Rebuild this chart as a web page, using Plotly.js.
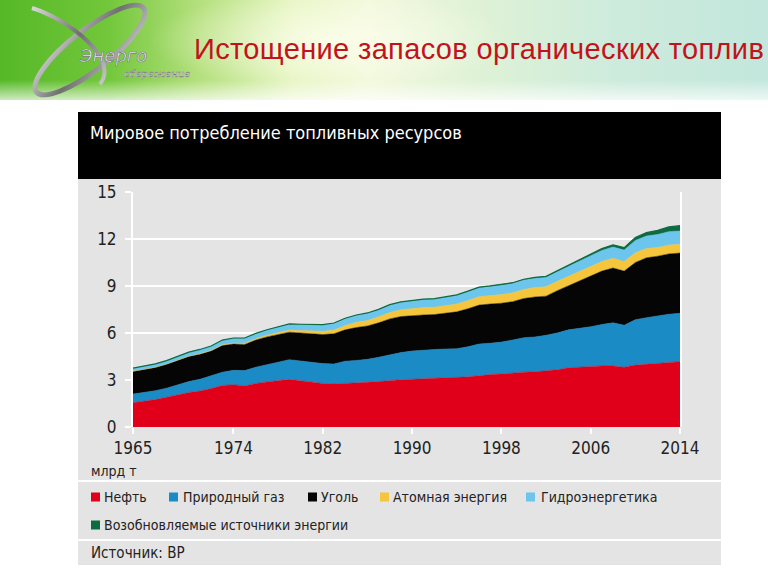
<!DOCTYPE html>
<html>
<head>
<meta charset="utf-8">
<script src="https://cdn.plot.ly/plotly-3.0.1.min.js"></script>
<style>
  body { margin: 0; background: #fff; }
  #banner {
    position: absolute; left: 0; top: 0; width: 768px; height: 100px; overflow: hidden;
    background: linear-gradient(90deg, #55b826 0%, #72c73a 14%, #b5e07e 26%, #e6f5c2 38%, #f2f8dc 48%, #dff2d6 62%, #cdebdc 80%, #c3e7dc 100%);
  }
  #banner .glow {
    position: absolute; left: 0; top: 0; width: 768px; height: 100px;
    background: radial-gradient(ellipse 260px 70px at 330px 40px, rgba(255,255,240,0.75), rgba(255,255,255,0) 70%),
                linear-gradient(180deg, rgba(255,255,255,0) 80%, rgba(255,255,255,0.7) 100%);
  }
  #banner .title {
    position: absolute; left: 194px; top: 33px; white-space: nowrap; letter-spacing: 0.35px;
    font-family: 'Liberation Sans', Arial, sans-serif; font-size: 29px; color: #c3121a;
  }
  #banner svg { position: absolute; left: 0; top: 0; }
  #chart { position: absolute; left: 0; top: 0; width: 768px; height: 576px; }
</style>
</head>
<body>
<div id="banner">
  <div class="glow"></div>
  <svg width="200" height="100">
    <defs>
      <linearGradient id="metal" x1="0" y1="0" x2="1" y2="1">
        <stop offset="0" stop-color="#d8d8d8"/>
        <stop offset="0.5" stop-color="#6f6f6f"/>
        <stop offset="1" stop-color="#c8c8c8"/>
      </linearGradient>
    </defs>
    <ellipse cx="90" cy="50" rx="68" ry="20" transform="rotate(-38 90 50)" fill="none" stroke="url(#metal)" stroke-width="5"/>
    <path d="M32 8 C 70 20, 120 60, 100 84" fill="none" stroke="url(#metal)" stroke-width="4"/>
    <text x="80" y="62" font-family="'DejaVu Sans', sans-serif" font-style="italic" font-size="18" fill="#f4f4f4" stroke="#7a7a7a" stroke-width="0.7">Энерго</text>
    <text x="124" y="77" font-family="'DejaVu Serif', serif" font-style="italic" font-size="10" fill="#f8f8f8" stroke="#777" stroke-width="0.4">сбережение</text>
  </svg>
  <div class="title">Истощение запасов органических топлив</div>
</div>
<div id="chart"></div>
<script>
// годы и значения, млрд т
const years = Array.from({ length: 50 }, (_, i) => 1965 + i);

const oil = [1.55, 1.65, 1.75, 1.9, 2.05, 2.2, 2.3, 2.45, 2.65, 2.7,
    2.62, 2.78, 2.88, 2.95, 3.04, 2.95, 2.85, 2.78, 2.75, 2.78,
    2.78, 2.85, 2.9, 2.98, 3.02, 3.05, 3.08, 3.1, 3.1, 3.15,
    3.2, 3.27, 3.35, 3.38, 3.45, 3.5, 3.53, 3.58, 3.65, 3.78,
    3.82, 3.85, 3.9, 3.89, 3.82, 3.95, 4.0, 4.05, 4.12, 4.17];
const gas = [0.55, 0.55, 0.57, 0.58, 0.63, 0.7, 0.75, 0.8, 0.85, 0.92,
    0.98, 1.04, 1.1, 1.15, 1.26, 1.27, 1.27, 1.27, 1.27, 1.42,
    1.47, 1.47, 1.55, 1.62, 1.73, 1.8, 1.84, 1.85, 1.88, 1.85,
    1.92, 2.03, 2.0, 2.04, 2.1, 2.2, 2.22, 2.27, 2.35, 2.42,
    2.48, 2.55, 2.65, 2.76, 2.68, 2.9, 2.98, 3.05, 3.08, 3.09];
const coal = [1.45, 1.48, 1.48, 1.52, 1.57, 1.6, 1.6, 1.6, 1.7, 1.68,
    1.67, 1.73, 1.77, 1.78, 1.75, 1.78, 1.83, 1.85, 1.93, 2.0,
    2.1, 2.13, 2.2, 2.3, 2.3, 2.27, 2.23, 2.23, 2.27, 2.35,
    2.43, 2.48, 2.5, 2.48, 2.45, 2.5, 2.55, 2.5, 2.7, 2.8,
    3.0, 3.2, 3.4, 3.5, 3.45, 3.65, 3.82, 3.8, 3.85, 3.84];
const nuclear = [0.01, 0.01, 0.01, 0.01, 0.02, 0.02, 0.03, 0.04, 0.05, 0.06,
    0.08, 0.09, 0.11, 0.13, 0.14, 0.16, 0.19, 0.21, 0.24, 0.28,
    0.33, 0.35, 0.38, 0.41, 0.43, 0.45, 0.47, 0.47, 0.49, 0.5,
    0.52, 0.54, 0.54, 0.55, 0.57, 0.58, 0.6, 0.61, 0.6, 0.62,
    0.63, 0.64, 0.62, 0.62, 0.61, 0.63, 0.6, 0.56, 0.56, 0.57];
const hydro = [0.2, 0.21, 0.22, 0.23, 0.24, 0.26, 0.27, 0.28, 0.29, 0.31,
    0.32, 0.33, 0.34, 0.36, 0.38, 0.39, 0.4, 0.41, 0.43, 0.44,
    0.45, 0.46, 0.46, 0.48, 0.48, 0.49, 0.51, 0.51, 0.53, 0.54,
    0.56, 0.57, 0.58, 0.59, 0.59, 0.6, 0.59, 0.6, 0.61, 0.64,
    0.66, 0.69, 0.7, 0.72, 0.73, 0.78, 0.79, 0.83, 0.86, 0.84];
const renew = [0, 0, 0, 0, 0, 0, 0, 0, 0.01, 0.01,
    0.01, 0.01, 0.01, 0.01, 0.01, 0.01, 0.01, 0.01, 0.02, 0.02,
    0.02, 0.02, 0.02, 0.02, 0.03, 0.03, 0.03, 0.03, 0.03, 0.04,
    0.04, 0.04, 0.04, 0.05, 0.05, 0.05, 0.06, 0.06, 0.07, 0.08,
    0.09, 0.1, 0.12, 0.14, 0.16, 0.19, 0.22, 0.26, 0.3, 0.34];

const seriesNames = ['Нефть', 'Природный газ', 'Уголь', 'Атомная энергия', 'Гидроэнергетика',
    'Возобновляемые источники энергии'];
const seriesColors = ['#e10019', '#1a8bc5', '#050505', '#f5c53c', '#6cc5ec', '#0d6b42'];
const xTicks = [1965, 1974, 1982, 1990, 1998, 2006, 2014];
const yTicks = [0, 3, 6, 9, 12, 15];

const narrow = "'Liberation Sans Narrow', 'DejaVu Sans Condensed', 'Arial Narrow', sans-serif";

// пиксели страницы -> доли области построения
const L = 133, R = 680, T = 192, B = 427;
const fx = (x) => (x - L) / (R - L);
const fy = (y) => (B - y) / (B - T);

const values = [oil, gas, coal, nuclear, hydro, renew];
const data = values.map((v, i) => ({
    x: years,
    y: v,
    type: 'scatter',
    mode: 'lines',
    stackgroup: 'one',
    name: seriesNames[i],
    line: { color: seriesColors[i], width: i === 5 ? 1.2 : 0.5 },
    fillcolor: seriesColors[i],
    hoverinfo: 'skip'
}));

const shapes = [
    // панель
    { type: 'rect', xref: 'paper', yref: 'paper', x0: fx(78), x1: fx(721), y0: fy(565), y1: fy(112),
      fillcolor: '#e4e4e4', line: { width: 0 }, layer: 'below' },
    // чёрная шапка
    { type: 'rect', xref: 'paper', yref: 'paper', x0: fx(78), x1: fx(721), y0: fy(179), y1: fy(112),
      fillcolor: '#000', line: { width: 0 }, layer: 'below' },
    // белые разделители
    { type: 'line', xref: 'paper', yref: 'paper', x0: fx(78), x1: fx(721), y0: fy(481), y1: fy(481),
      line: { color: '#fff', width: 2 }, layer: 'below' },
    { type: 'line', xref: 'paper', yref: 'paper', x0: fx(78), x1: fx(721), y0: fy(540), y1: fy(540),
      line: { color: '#fff', width: 2 }, layer: 'below' }
];

const annotations = [
    { text: 'Мировое потребление топливных ресурсов', x: fx(88), y: fy(132), font: { size: 18, color: '#fff' } },
    { text: 'млрд т', x: fx(89), y: fy(471), font: { size: 14, color: '#222' } },
    { text: 'Источник: BP', x: fx(89), y: fy(553), font: { size: 15, color: '#222' } }
];

// легенда: квадрат + подпись
const legendItems = [
    { sx: 91, tx: 102, y: 497 }, { sx: 169, tx: 181, y: 497 }, { sx: 308, tx: 319, y: 497 },
    { sx: 380, tx: 391, y: 497 }, { sx: 526, tx: 539, y: 497 }, { sx: 91, tx: 102, y: 525 }
];
legendItems.forEach((it, i) => {
    shapes.push({ type: 'rect', xref: 'paper', yref: 'paper', x0: fx(it.sx), x1: fx(it.sx + 9),
        y0: fy(it.y + 4.5), y1: fy(it.y - 4.5), fillcolor: seriesColors[i], line: { width: 0 } });
    annotations.push({ text: seriesNames[i], x: fx(it.tx), y: fy(it.y), font: { size: 14, color: '#222' } });
});
annotations.forEach(a => {
    a.xref = 'paper'; a.yref = 'paper'; a.xanchor = 'left'; a.yanchor = 'middle';
    a.showarrow = false; a.font.family = narrow;
});

const layout = {
    width: 768,
    height: 576,
    margin: { l: L, r: 768 - R, t: T, b: 576 - B, pad: 0 },
    paper_bgcolor: 'rgba(0,0,0,0)',
    plot_bgcolor: 'rgba(0,0,0,0)',
    showlegend: false,
    font: { family: narrow, size: 17, color: '#222' },
    xaxis: {
        range: [1965, 2014],
        tickvals: xTicks,
        ticks: 'outside', ticklen: 6, tickcolor: '#fff', tickwidth: 2,
        showgrid: false, zeroline: false, showline: false,
        tickfont: { size: 17, color: '#222' }
    },
    yaxis: {
        range: [0, 15],
        tickvals: yTicks,
        ticks: 'outside', ticklen: 6, tickcolor: '#fff', tickwidth: 2,
        ticklabelstandoff: 5,
        showgrid: true, gridcolor: '#fff', gridwidth: 2,
        zeroline: false,
        showline: true, linecolor: '#fff', linewidth: 2, mirror: true,
        tickfont: { size: 17, color: '#222' }
    },
    shapes: shapes,
    annotations: annotations
};

Plotly.newPlot('chart', data, layout, { staticPlot: true });
</script>
</body>
</html>
